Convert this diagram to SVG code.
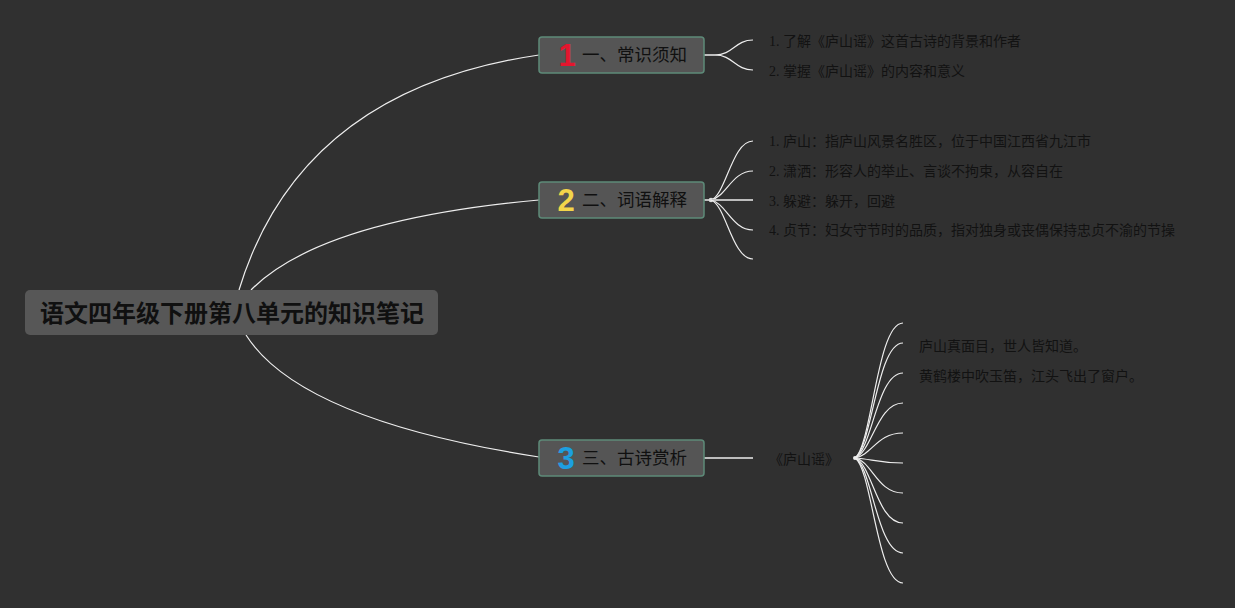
<svg xmlns="http://www.w3.org/2000/svg" width="1235" height="608" viewBox="0 0 1235 608">
<style>
.bg{fill:#303030}
.root{fill:#575757}
.box{fill:#555555;stroke:#5d8a78;stroke-width:1.5}
.rt{font-family:"Liberation Sans","Noto Sans CJK SC",sans-serif;font-size:24px;font-weight:bold;fill:#101010}
.bt{font-family:"Liberation Sans","Noto Sans CJK SC",sans-serif;font-size:17.5px;fill:#101010}
.num{font-family:"Liberation Sans","DejaVu Sans",sans-serif;font-size:31px;font-weight:bold}
.ct{font-family:"Liberation Serif","Noto Sans CJK SC",serif;font-size:14px;fill:#121212}
.pt{font-family:"Noto Sans CJK SC",sans-serif;font-size:14px;fill:#121212}
.ln{fill:none;stroke:#eeeeee;stroke-width:1.2}
.th{fill:none;stroke:#bdbdbd;stroke-width:2}
</style>
<rect class="bg" x="0" y="0" width="1235" height="608"/>
<g id="connectors">
<path class="ln" d="M239,290 Q300,90 539,55"/>
<path class="ln" d="M251,290 Q320,220 539,200"/>
<path class="ln" d="M246,335 Q300,420 539,457"/>
<path class="th" d="M704,55 L715,55"/>
<path class="ln" d="M715,55 C733,55 735,40 753,40"/>
<path class="ln" d="M715,55 C733,55 735,70 753,70"/>
<path class="th" d="M704,200 L711,200"/>
<circle cx="711" cy="200" r="2.3" fill="#dddddd"/>
<path class="ln" d="M711,200 C726,195 732,141 753,141"/>
<path class="ln" d="M711,200 C726,197 732,171 753,171"/>
<path class="th" d="M711,200 L753,200"/>
<path class="ln" d="M711,200 C726,203 732,230 753,230"/>
<path class="ln" d="M711,200 C726,205 732,259 753,259"/>
<path class="th" d="M704,458 L753,458"/>
<g>
<path class="ln" d="M855,458 C872,445 877,323 903,323"/>
<path class="ln" d="M855,458 C872,447 877,343 903,343"/>
<path class="ln" d="M855,458 C872,450 877,373 903,373"/>
<path class="ln" d="M855,458 C872,452 877,403 903,403"/>
<path class="ln" d="M855,458 C872,455 877,433 903,433"/>
<path class="ln" d="M855,458 C872,459 877,463 903,463"/>
<path class="ln" d="M855,458 C872,461 877,493 903,493"/>
<path class="ln" d="M855,458 C872,464 877,523 903,523"/>
<path class="ln" d="M855,458 C872,466 877,553 903,553"/>
<path class="ln" d="M855,458 C872,469 877,583 903,583"/>
</g>
<circle cx="855" cy="458" r="2" fill="#eeeeee"/>
</g>
<g id="root">
<rect class="root" x="25" y="290" width="413" height="45" rx="5"/>
<text class="rt" x="232" y="313" text-anchor="middle" dominant-baseline="central">语文四年级下册第八单元的知识笔记</text>
</g>
<g id="topic1">
<rect class="box" x="539" y="37" width="165" height="36" rx="3"/>
<text class="num" x="567" y="55" text-anchor="middle" dominant-baseline="central" fill="#e3162e">1</text>
<text class="bt" x="582" y="55" dominant-baseline="central">一、常识须知</text>
</g>
<g id="topic1-items">
<text class="ct" x="769" y="41" dominant-baseline="central">1. 了解《庐山谣》这首古诗的背景和作者</text>
<text class="ct" x="769" y="71" dominant-baseline="central">2. 掌握《庐山谣》的内容和意义</text>
</g>
<g id="topic2">
<rect class="box" x="539" y="182" width="165" height="36" rx="3"/>
<text class="num" x="566" y="200" text-anchor="middle" dominant-baseline="central" fill="#f3d54a">2</text>
<text class="bt" x="582" y="200" dominant-baseline="central">二、词语解释</text>
</g>
<g id="topic2-items">
<text class="ct" x="769" y="141.5" dominant-baseline="central">1. 庐山：指庐山风景名胜区，位于中国江西省九江市</text>
<text class="ct" x="769" y="171.5" dominant-baseline="central">2. 潇洒：形容人的举止、言谈不拘束，从容自在</text>
<text class="ct" x="769" y="201" dominant-baseline="central">3. 躲避：躲开，回避</text>
<text class="ct" x="769" y="230.5" dominant-baseline="central">4. 贞节：妇女守节时的品质，指对独身或丧偶保持忠贞不渝的节操</text>
</g>
<g id="topic3">
<rect class="box" x="539" y="440" width="165" height="36" rx="3"/>
<text class="num" x="566" y="458" text-anchor="middle" dominant-baseline="central" fill="#1d9fe0">3</text>
<text class="bt" x="582" y="458" dominant-baseline="central">三、古诗赏析</text>
</g>
<g id="poem">
<text class="pt" x="804" y="458" text-anchor="middle" dominant-baseline="central" font-size="13">《庐山谣》</text>
</g>
<g id="poem-lines">
<text class="pt" x="919" y="344.5" dominant-baseline="central">庐山真面目，世人皆知道。</text>
<text class="pt" x="919" y="374.5" dominant-baseline="central">黄鹤楼中吹玉笛，江头飞出了窗户。</text>
</g>
</svg>
